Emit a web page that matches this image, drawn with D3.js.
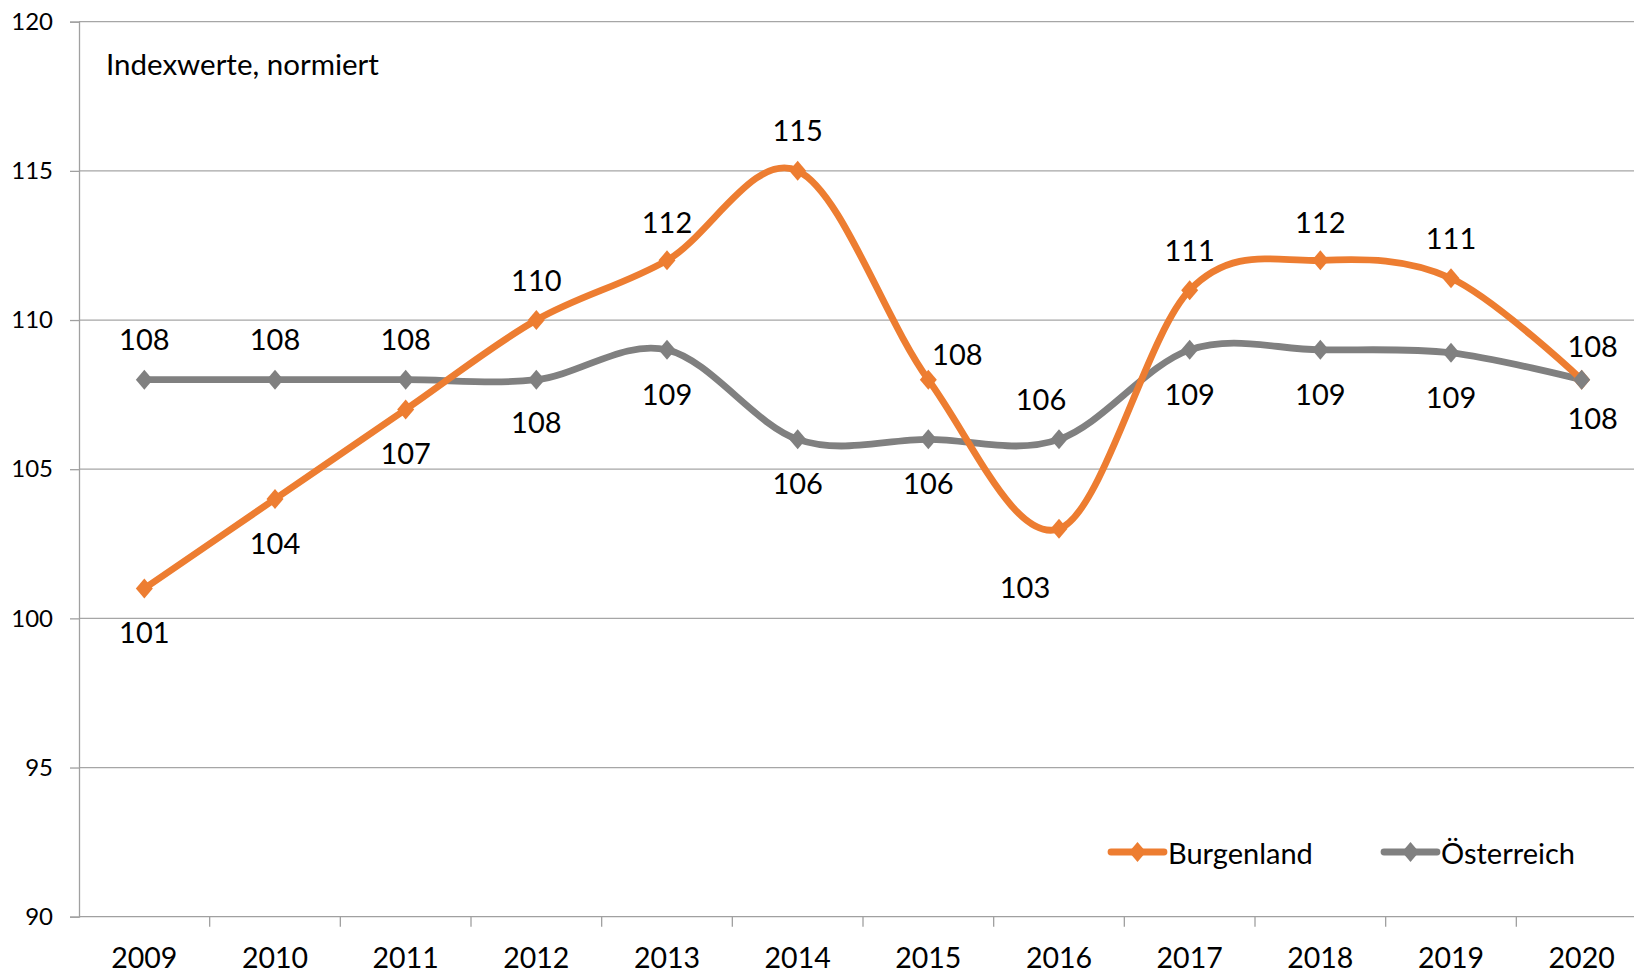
<!DOCTYPE html>
<html>
<head>
<meta charset="utf-8">
<script src="https://cdn.jsdelivr.net/npm/d3@7"></script>
<style>
  body { margin: 0; background: #fff; overflow: hidden; }
  svg { display: block; font-family: Lato, "Open Sans", sans-serif; }
</style>
</head>
<body>
<script>
// chart data
var years = ["2009", "2010", "2011", "2012", "2013", "2014", "2015", "2016", "2017", "2018", "2019", "2020"];
var burgenland = [101, 104, 107, 110, 112, 115, 108, 103, 111, 112, 111.4, 108];
var oesterreich = [108, 108, 108, 108, 109, 106, 106, 106, 109, 109, 108.9, 108];
var seriesNames = ["Burgenland", "Österreich"];
var yTicks = [90, 95, 100, 105, 110, 115, 120];
var titleText = "Indexwerte, normiert";

// label placement per point (offset from the marker)
var burgLabelPos = [[0, 43], [0, 43], [0, 43], [0, -41], [0, -39], [0, -41], [29, -26], [-34, 58], [0, -41], [0, -39], [0, -41], [11, -34]];
var oestLabelPos = [[0, -41], [0, -41], [0, -41], [0, 42], [0, 44], [0, 43], [0, 43], [-18, -41], [0, 44], [0, 44], [0, 44], [11, 38]];

var W = 1634, H = 973;
var plotLeft = 79, plotRight = 1647, plotTop = 21.7, plotBottom = 916.7;

var svg = d3.select("body").append("svg")
  .attr("width", W)
  .attr("height", H);

var x = d3.scaleBand().domain(years).range([plotLeft, plotRight]).paddingInner(0).paddingOuter(0);
var y = d3.scaleLinear().domain([90, 120]).range([plotBottom, plotTop]);

var cx = function (i) { return x(years[i]) + x.bandwidth() / 2; };

// gridlines
svg.append("g")
  .selectAll("line")
  .data(yTicks.filter(function (d) { return d > 90; }))
  .enter().append("line")
  .attr("x1", plotLeft).attr("x2", plotRight)
  .attr("y1", function (d) { return y(d); })
  .attr("y2", function (d) { return y(d); })
  .attr("stroke", "#a6a6a6")
  .attr("stroke-width", 1.3);

// y axis
var yAxis = svg.append("g")
  .attr("transform", "translate(" + plotLeft + ",0)")
  .call(d3.axisLeft(y).tickValues(yTicks).tickSize(9).tickPadding(17));
yAxis.select(".domain").attr("stroke", "#a0a0a0").attr("stroke-width", 1.3);
yAxis.selectAll(".tick line").attr("stroke", "#a0a0a0").attr("stroke-width", 1.3);
yAxis.selectAll("text")
  .attr("fill", "#000")
  .style("font-size", "24px")
  .style("font-family", "Lato, 'Open Sans', sans-serif");

// x axis (ticks between categories)
var xAxisG = svg.append("g").attr("transform", "translate(0," + plotBottom + ")");
xAxisG.append("line")
  .attr("x1", plotLeft).attr("x2", plotRight)
  .attr("stroke", "#a0a0a0").attr("stroke-width", 1.3);
xAxisG.selectAll(".xtick")
  .data(years.slice(1))
  .enter().append("line")
  .attr("x1", function (d) { return x(d); })
  .attr("x2", function (d) { return x(d); })
  .attr("y1", 0).attr("y2", 10)
  .attr("stroke", "#a0a0a0").attr("stroke-width", 1.3);
xAxisG.selectAll(".xlabel")
  .data(years)
  .enter().append("text")
  .attr("x", function (d) { return x(d) + x.bandwidth() / 2; })
  .attr("y", 51)
  .attr("text-anchor", "middle")
  .style("font-size", "28.5px")
  .text(function (d) { return d; });

// title
svg.append("text")
  .attr("x", 106)
  .attr("y", 75)
  .style("font-size", "29.5px")
  .text(titleText);

var colors = ["#ed7d31", "#808080"];
var allSeries = [burgenland, oesterreich];
var allLabelPos = [burgLabelPos, oestLabelPos];

var line = d3.line()
  .x(function (d, i) { return cx(i); })
  .y(function (d) { return y(d); })
  .curve(d3.curveCatmullRom.alpha(0));

var diamond = function (px, py, r) {
  return "M" + px + "," + (py - r) + "L" + (px + r * 0.85) + "," + py +
    "L" + px + "," + (py + r) + "L" + (px - r * 0.85) + "," + py + "Z";
};

// lines: grey first, orange on top
[1, 0].forEach(function (s) {
  svg.append("path")
    .datum(allSeries[s])
    .attr("d", line)
    .attr("fill", "none")
    .attr("stroke", colors[s])
    .attr("stroke-width", 6.8)
    .attr("stroke-linecap", "round")
    .attr("stroke-linejoin", "round");
});

// markers
[0, 1].forEach(function (s) {
  svg.append("g").selectAll("path")
    .data(allSeries[s])
    .enter().append("path")
    .attr("d", function (d, i) { return diamond(cx(i), y(d), 10); })
    .attr("fill", colors[s]);
});

// data labels
[0, 1].forEach(function (s) {
  svg.append("g").selectAll("text")
    .data(allSeries[s])
    .enter().append("text")
    .attr("x", function (d, i) { return cx(i) + allLabelPos[s][i][0]; })
    .attr("y", function (d, i) { return y(d) + allLabelPos[s][i][1]; })
    .attr("text-anchor", "middle")
    .attr("dominant-baseline", "central")
    .style("font-size", "29px")
    .text(function (d) { return Math.round(d); });
});

// legend
var legendX = [1111, 1384];
seriesNames.forEach(function (name, s) {
  var g = svg.append("g").attr("transform", "translate(" + legendX[s] + ",852)");
  g.append("line")
    .attr("x1", 0).attr("x2", 53)
    .attr("stroke", colors[s]).attr("stroke-width", 6.8)
    .attr("stroke-linecap", "round");
  g.append("path").attr("d", diamond(26.5, 0, 10)).attr("fill", colors[s]);
  g.append("text")
    .attr("x", 57)
    .attr("y", 0)
    .attr("dominant-baseline", "central")
    .style("font-size", "29px")
    .text(name);
});
</script>
</body>
</html>
